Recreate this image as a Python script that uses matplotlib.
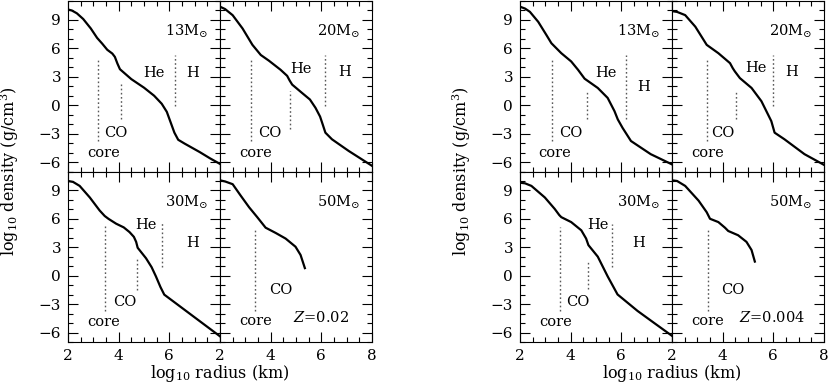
import matplotlib.pyplot as plt
from matplotlib.ticker import MultipleLocator

plt.rcParams["font.family"] = "DejaVu Serif"
plt.rcParams["mathtext.fontset"] = "dejavuserif"

# density profiles, Z = 0.02
r13_a = [2.0, 2.15, 2.35, 2.6, 2.9, 3.15, 3.35, 3.55, 3.75, 3.85, 3.95, 4.05, 4.5, 5.0, 5.4, 5.7, 5.9, 6.05, 6.2, 6.35, 6.6, 7.2, 7.6, 8.0]
d13_a = [10.1, 10.0, 9.7, 9.1, 8.1, 7.1, 6.5, 5.85, 5.45, 5.1, 4.4, 3.8, 2.75, 1.85, 1.0, 0.15, -0.7, -1.8, -2.9, -3.65, -4.05, -4.95, -5.6, -6.2]
r20_a = [2.0, 2.2, 2.5, 2.89, 3.28, 3.61, 3.93, 4.39, 4.65, 4.75, 4.85, 5.24, 5.55, 5.77, 5.95, 6.05, 6.16, 6.42, 7.08, 8.0]
d20_a = [10.4, 10.15, 9.5, 8.1, 6.37, 5.3, 4.7, 3.74, 3.1, 2.6, 2.17, 1.29, 0.6, -0.28, -1.2, -2.0, -2.9, -3.6, -4.83, -6.4]
r30_a = [2.0, 2.2, 2.46, 2.86, 3.25, 3.45, 3.6, 3.9, 4.2, 4.43, 4.6, 4.69, 4.75, 5.08, 5.3, 5.47, 5.65, 5.8, 6.5, 7.2, 8.0]
d30_a = [10.0, 9.9, 9.48, 8.26, 6.88, 6.3, 6.0, 5.49, 5.1, 4.6, 4.1, 3.57, 2.95, 1.84, 0.9, -0.07, -1.2, -2.0, -3.4, -4.8, -6.4]
r50_a = [2.0, 2.2, 2.5, 2.82, 3.15, 3.47, 3.8, 4.2, 4.59, 4.98, 5.18, 5.35]
d50_a = [10.07, 9.95, 9.66, 8.44, 7.22, 6.18, 5.07, 4.51, 3.92, 3.06, 2.19, 0.8]

# density profiles, Z = 0.004
r13_b = [2.0, 2.2, 2.39, 2.72, 3.04, 3.24, 3.37, 3.63, 4.02, 4.29, 4.55, 5.07, 5.46, 5.73, 5.86, 6.05, 6.38, 7.16, 8.0]
d13_b = [10.4, 10.2, 9.86, 8.8, 7.42, 6.54, 6.19, 5.49, 4.62, 3.74, 2.8, 1.82, 0.77, -0.63, -1.5, -2.4, -3.78, -5.17, -6.25]
r20_b = [2.0, 2.2, 2.52, 2.92, 3.37, 3.83, 4.29, 4.4, 4.48, 4.68, 5.14, 5.53, 5.92, 6.05, 6.44, 7.23, 8.0]
d20_b = [9.93, 9.85, 9.51, 8.29, 6.37, 5.49, 4.44, 3.9, 3.57, 2.86, 1.82, 0.42, -1.68, -2.9, -3.6, -5.17, -6.3]
r30_b = [2.0, 2.2, 2.45, 2.98, 3.37, 3.55, 3.63, 4.02, 4.42, 4.61, 4.7, 5.07, 5.46, 5.85, 6.64, 7.3, 8.0]
d30_b = [9.82, 9.75, 9.48, 8.26, 7.05, 6.4, 6.18, 5.66, 4.79, 3.92, 3.23, 2.01, -0.07, -1.98, -3.72, -5.0, -6.35]
r50_b = [2.0, 2.2, 2.52, 3.05, 3.37, 3.5, 3.83, 4.09, 4.22, 4.61, 4.94, 5.14, 5.27]
d50_b = [10.07, 10.0, 9.48, 7.92, 6.7, 6.01, 5.66, 5.07, 4.72, 4.27, 3.57, 2.71, 1.49]

# shell boundaries: (log r, bottom, top)
bnd13_a = [(3.19, -3.78, 4.97), (4.08, -1.5, 2.34), (6.24, -0.1, 5.3)]
bnd20_a = [(3.24, -3.78, 4.9), (4.78, -2.55, 1.47), (6.16, -0.1, 5.25)]
bnd30_a = [(3.45, -3.7, 5.3), (4.72, -1.46, 1.84), (5.7, 0.97, 5.66)]
bnd50_a = [(3.37, -3.72, 4.97)]
bnd13_b = [(3.27, -3.78, 4.97), (4.65, -1.5, 1.65), (6.2, -1.5, 5.3)]
bnd20_b = [(3.37, -3.78, 4.9), (4.51, -1.5, 1.54), (5.98, -0.1, 5.3)]
bnd30_b = [(3.57, -3.72, 5.14), (4.7, -1.39, 1.67), (5.63, 0.97, 5.49)]
bnd50_b = [(3.41, -3.72, 4.97)]

masses = ["13", "20", "30", "50"]
metallicity = ["0.02", "0.004"]

# text labels per panel: (text, x, y)
labels_a = [
    [("He", 5.41, 3.4), ("H", 6.9, 3.4), ("CO", 3.9, -2.9), ("core", 3.41, -5.0)],
    [("He", 5.18, 3.8), ("H", 6.9, 3.46), ("CO", 3.98, -2.9), ("core", 3.4, -5.0)],
    [("He", 5.08, 5.4), ("H", 6.9, 3.4), ("CO", 4.23, -2.78), ("core", 3.42, -4.86)],
    [("CO", 4.39, -1.46), ("core", 3.4, -4.8)],
]
labels_b = [
    [("He", 5.4, 3.4), ("H", 6.89, 1.9), ("CO", 4.0, -2.9), ("core", 3.37, -5.0)],
    [("He", 5.3, 3.9), ("H", 6.72, 3.46), ("CO", 4.01, -2.9), ("core", 3.41, -5.0)],
    [("He", 5.07, 5.4), ("H", 6.7, 3.4), ("CO", 4.28, -2.78), ("core", 3.39, -4.86)],
    [("CO", 4.42, -1.46), ("core", 3.41, -4.8)],
]

groups = [
    ([(r13_a, d13_a), (r20_a, d20_a), (r30_a, d30_a), (r50_a, d50_a)],
     [bnd13_a, bnd20_a, bnd30_a, bnd50_a], labels_a, 68),
    ([(r13_b, d13_b), (r20_b, d20_b), (r30_b, d30_b), (r50_b, d50_b)],
     [bnd13_b, bnd20_b, bnd30_b, bnd50_b], labels_b, 520),
]

W, H = 830, 386
pw, ph = 152, 170.5
fig = plt.figure(figsize=(W / 100, H / 100), dpi=100)

for g, (curves, bounds, labels, x0) in enumerate(groups):
    for i in range(4):
        row, col = divmod(i, 2)
        left = x0 + col * pw
        top = 1 + row * ph
        ax = fig.add_axes([left / W, 1 - (top + ph) / H, pw / W, ph / H])

        r, d = curves[i]
        ax.plot(r, d, color="black", lw=1.6)
        for xb, y1, y2 in bounds[i]:
            ax.plot([xb, xb], [y1, y2], color="0.35", lw=1.0, ls=(0, (1.2, 1.8)))
        for txt, tx, ty in labels[i]:
            ax.text(tx, ty, txt, ha="center", va="center", fontsize=10.5)
        ax.text(6.7, 7.8, masses[i] + r"M$_{\odot}$", ha="center", va="center", fontsize=10.5)
        if i == 3:
            ax.text(6.0 if g == 0 else 5.95, -4.4, "$Z$=" + metallicity[g],
                    ha="center", va="center", fontsize=10.5)

        ax.set_xlim(2, 8)
        ax.set_ylim(-7, 11)
        ax.set_xticks([2, 4, 6, 8])
        ax.set_yticks([-6, -3, 0, 3, 6, 9])
        ax.xaxis.set_minor_locator(MultipleLocator(0.5))
        ax.yaxis.set_minor_locator(MultipleLocator(1))
        ax.tick_params(which="both", direction="in", top=True, right=True, width=0.8, labelsize=11)
        ax.tick_params(which="major", length=7)
        ax.tick_params(which="minor", length=3.5)
        ax.tick_params(axis="x", pad=5)
        ax.tick_params(axis="y", pad=5)
        for s in ax.spines.values():
            s.set_linewidth(0.8)
        if col == 1:
            ax.tick_params(labelleft=False)
        if row == 0:
            ax.tick_params(labelbottom=False)
        elif col == 0:
            ax.set_xticklabels(["2", "4", "6", ""])

    fig.text((x0 - 58) / W, 1 - 171 / H, r"log$_{10}$ density (g/cm$^3$)",
             rotation=90, ha="center", va="center", fontsize=11.5)
    fig.text((x0 + pw) / W, 1 - 374 / H, r"log$_{10}$ radius (km)",
             ha="center", va="center", fontsize=11.5)

fig.savefig("out.png", dpi=100)
